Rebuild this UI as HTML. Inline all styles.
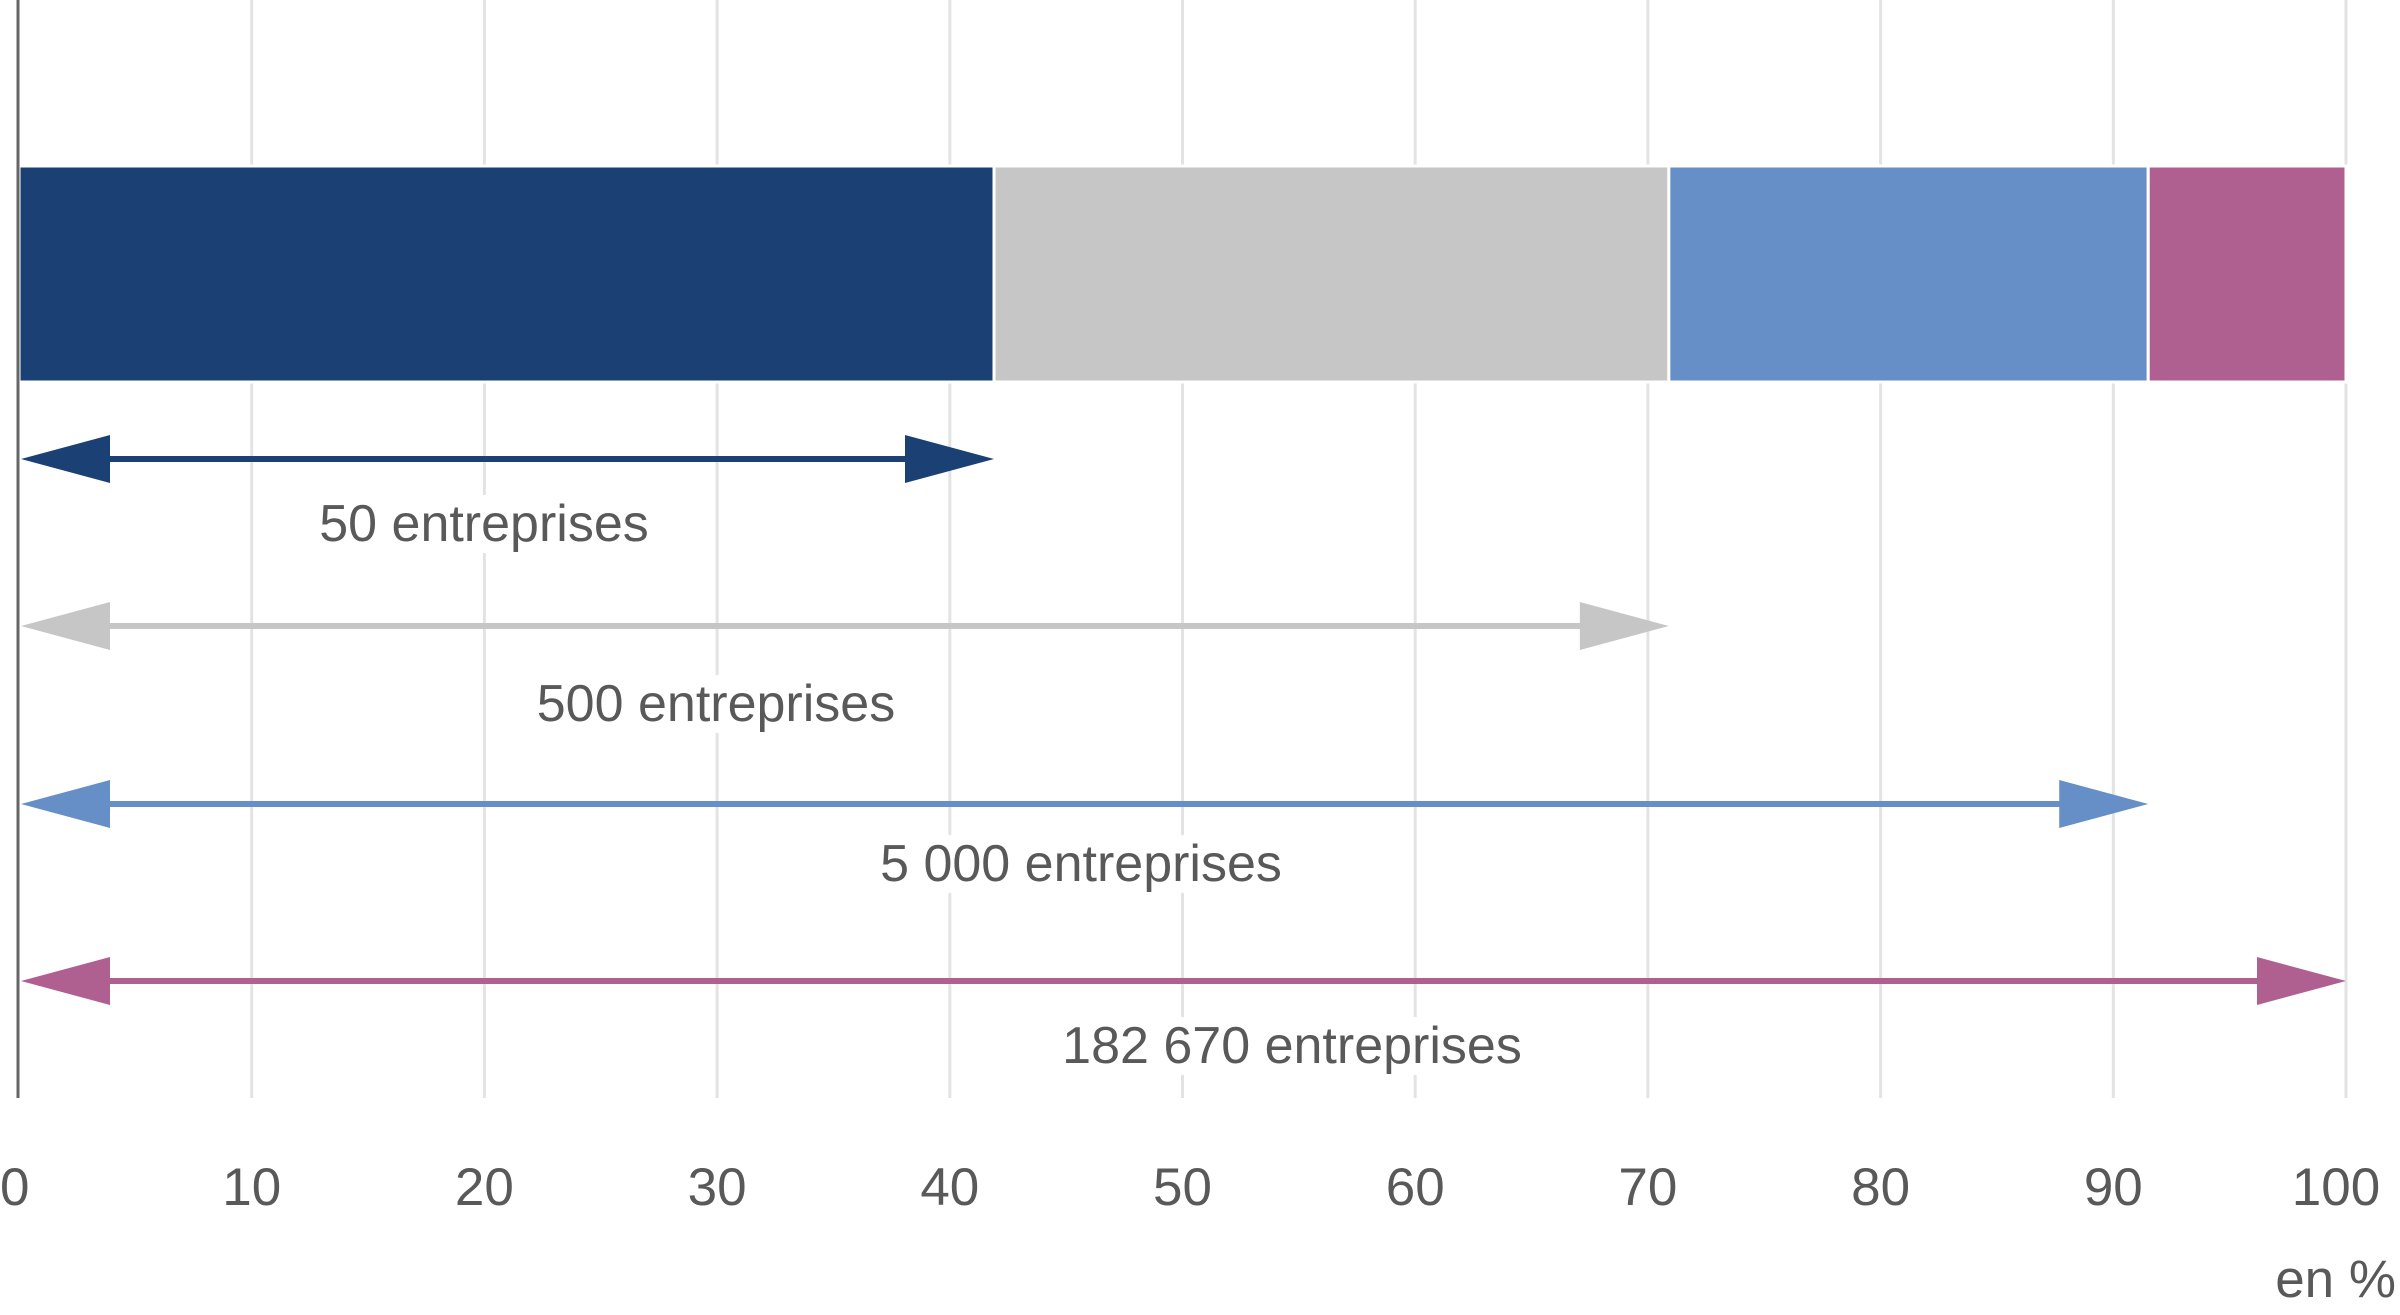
<!DOCTYPE html>
<html><head><meta charset="utf-8"><style>
html,body{margin:0;padding:0;background:#fff;}
svg{display:block;font-family:"Liberation Sans",sans-serif;}
</style></head><body>
<svg id="chart" width="2400" height="1315" viewBox="0 0 2400 1315" xmlns="http://www.w3.org/2000/svg"></svg>
<script>
const ticks = [0,10,20,30,40,50,60,70,80,90,100];
const tickLabels = ["0","10","20","30","40","50","60","70","80","90","100"];
const cumulative = [41.9, 70.9, 91.5, 100];
const labels = ["50 entreprises","500 entreprises","5 000 entreprises","182 670 entreprises"];
const colors = ["#1b4174","#c6c6c6","#678fc7","#b06090"];
const NS="http://www.w3.org/2000/svg";
const svg=document.getElementById('chart');
const X0=19, X1=2346;
const x=v=>X0+(X1-X0)*v/100;
function mk(tag,attrs,parent){const e=document.createElementNS(NS,tag);for(const k in attrs)e.setAttribute(k,attrs[k]);(parent||svg).appendChild(e);return e;}
// grid
ticks.forEach((t,i)=>{
  if(t===0)return;
  const g=mk('line',{x1:x(t),x2:x(t),y1:0,y2:1098,stroke:'#e3e3e3','stroke-width':3});
  
  
});
// bar segments
let prev=0;
cumulative.forEach((c,i)=>{
  const r=mk('rect',{x:x(prev),y:166,width:x(c)-x(prev),height:216,fill:colors[i],stroke:'#fff','stroke-width':3});
  
  
  prev=c;
});
// arrows
const arrowY=[459,626,804,981];
const labelY=[523,703,863,1045];
const labelX=[484,716,1081,1292];
cumulative.forEach((c,i)=>{
  const y=arrowY[i], a=x(0)+2, b=x(c);
  const g=mk('g',{});
  
  
  mk('line',{x1:a+80,x2:b-80,y1:y,y2:y,stroke:colors[i],'stroke-width':6},g);
  mk('polygon',{points:`${a},${y} ${a+89},${y-24} ${a+89},${y+24}`,fill:colors[i]},g);
  mk('polygon',{points:`${b},${y} ${b-89},${y-24} ${b-89},${y+24}`,fill:colors[i]},g);
  const t=mk('text',{x:labelX[i],y:labelY[i]+18,'text-anchor':'middle','font-size':52,fill:'#595959'});
  t.textContent=labels[i];
  
  
  const bb=t.getBBox();
  const bg=mk('rect',{x:bb.x-8,y:bb.y,width:bb.width+16,height:bb.height,fill:'#fff'});
  svg.insertBefore(bg,t);
  
  
});
// axis
const ax=mk('line',{x1:18,x2:18,y1:0,y2:1098,stroke:'#666','stroke-width':3});


ticks.forEach((t,i)=>{
  const tx=mk('text',{x:x(t)+(t===100?-10:0),y:1205,'text-anchor':t===0?'start':'middle','font-size':53,fill:'#595959'});
  if(t===0)tx.setAttribute('x',0);
  tx.textContent=tickLabels[i];
  
  
});
const u=mk('text',{x:2396,y:1297,'text-anchor':'end','font-size':53,fill:'#595959'});
u.textContent='en %';


</script>
</body></html>
